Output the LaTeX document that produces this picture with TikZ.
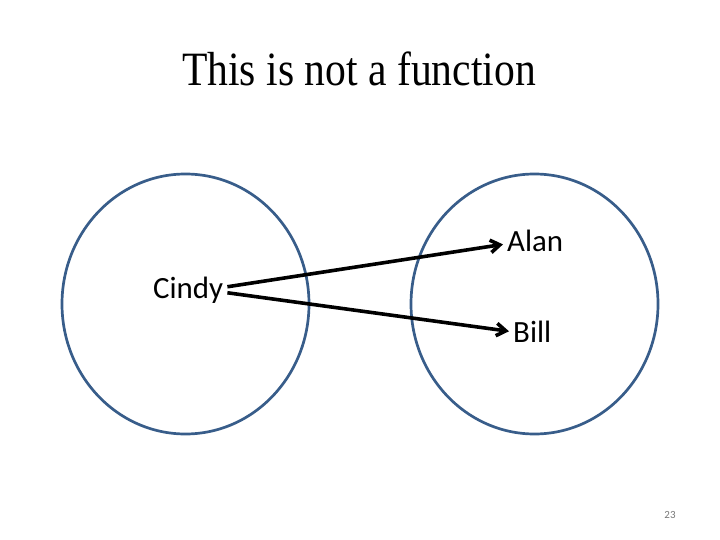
\documentclass[tikz,border=0pt]{standalone}
\usepackage{fontspec}
\setmainfont{Carlito}
\newfontfamily\titlefont[FakeStretch=0.87]{Liberation Serif}
\usetikzlibrary{arrows.meta,positioning,shapes.geometric}
\definecolor{setblue}{RGB}{56,93,138}
\definecolor{pagegrey}{RGB}{120,120,120}

\begin{document}
\begin{tikzpicture}[x=1bp, y=-1bp,
      setring/.style={ellipse, draw=setblue, line width=2.7bp,
                      minimum width=247bp, minimum height=260bp, inner sep=0pt},
      person/.style={font=\fontsize{31}{37}\selectfont, inner sep=4bp},
      arr/.style={-{Straight Barb[length=3.3mm, width=4.4mm, line width=3.6bp]}, line width=3.6bp, black}]
    \useasboundingbox (0,0) rectangle (720,540);
    \node[anchor=base, font=\titlefont\fontsize{48}{54}\selectfont] (title) at (359,86) {This is not a function};
    \node[setring] (domain) at (185.5,304) {};
    \node[setring] (range) at (534.5,304) {};
    \node[person, anchor=base west] (cindy) at (149,298) {Cindy};
    \node[person, anchor=base west] (alan) at (503,252) {Alan};
    \node[person, anchor=base west] (bill) at (509,342) {Bill};
    \draw[arr] ([yshift=3bp]cindy.east) -- ([yshift=-3bp]alan.west);
    \draw[arr] ([yshift=-3bp]cindy.east) -- (bill.west);
    \node[font=\fontsize{11}{13}\selectfont, text=pagegrey] (page) at (670,515) {23};
  \end{tikzpicture}
\end{document}
